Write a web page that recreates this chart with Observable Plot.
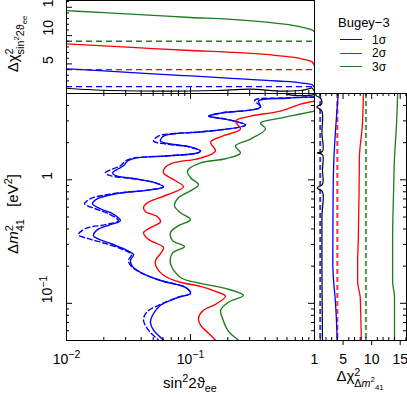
<!DOCTYPE html>
<html><head><meta charset="utf-8">
<script src="https://cdn.jsdelivr.net/npm/d3@7"></script>
<script src="https://cdn.jsdelivr.net/npm/@observablehq/plot@0.6"></script>
<style>
body{margin:0;background:#fff;font-family:"Liberation Sans",Arial,sans-serif;}
#wrap{position:relative;width:407px;height:394px;overflow:hidden;background:#fff;}
#wrap svg{position:absolute;left:0;top:0;}
.lbl{position:absolute;white-space:nowrap;font-size:14px;line-height:1;color:#000;}
.rot{transform:translate(-50%,-50%) rotate(-90deg);}
.ctr{transform:translate(-50%,-50%);}
.mid{transform:translateY(-50%);}
.ss{display:inline-flex;flex-direction:column;vertical-align:0.5em;font-size:0.72em;line-height:1.05;}
sup,sub{font-size:0.72em;line-height:0;}
</style></head><body><div id="wrap"></div><script>
// ---------- data ----------
const levelNames = ["1σ","2σ","3σ"];
const levelColors = ["#0000ff","#ff0000","#1e7b1e"];
const chi2Thresholds = [1,4,9];

// main panel contours: [sin²2θee, Δm²41 (eV²)]
const contour1s = [[0.063,0.048],[0.0606,0.0503],[0.0503,0.0606],[0.0475,0.0703],[0.0494,0.080],[0.0573,0.0964],[0.080,0.112],[0.100,0.1205],[0.0912,0.1346],[0.0573,0.153],[0.0395,0.178],[0.034,0.199],[0.0328,0.222],[0.0347,0.248],[0.0299,0.272],[0.0226,0.305],[0.0178,0.334],[0.0165,0.354],[0.0178,0.395],[0.0226,0.434],[0.0272,0.467],[0.0235,0.532],[0.0188,0.583],[0.0162,0.640],[0.0178,0.703],[0.0249,0.771],[0.0475,0.830],[0.0606,0.878],[0.0522,0.946],[0.036,1.02],[0.0249,1.08],[0.0235,1.14],[0.0262,1.23],[0.0288,1.30],[0.0311,1.42],[0.036,1.50],[0.0629,1.56],[0.114,1.65],[0.1205,1.71],[0.100,1.85],[0.069,1.95],[0.0573,2.06],[0.0606,2.26],[0.083,2.39],[0.1205,2.44],[0.278,2.78],[0.191,3.10],[0.140,3.28],[0.175,3.47],[0.367,3.88],[0.353,4.34],[0.583,4.58],[1,4.67]];
const contour1sAlt = [[0.0575,0.048],[0.0552,0.0503],[0.0458,0.0606],[0.0418,0.0729],[0.0442,0.0846],[0.0552,0.0964],[0.080,0.112],[0.100,0.1205],[0.0912,0.1346],[0.0573,0.153],[0.0395,0.178],[0.0334,0.199],[0.0316,0.222],[0.0334,0.248],[0.0285,0.272],[0.0206,0.305],[0.0150,0.334],[0.0125,0.36],[0.0142,0.403],[0.0206,0.434],[0.0262,0.467],[0.0218,0.532],[0.0171,0.583],[0.0140,0.640],[0.0156,0.703],[0.0235,0.771],[0.0475,0.830],[0.0606,0.878],[0.0522,0.946],[0.0347,1.02],[0.0226,1.08],[0.0206,1.14],[0.0239,1.23],[0.0272,1.30],[0.0299,1.42],[0.0347,1.50],[0.0629,1.56],[0.114,1.65],[0.1205,1.71],[0.0964,1.85],[0.0629,1.95],[0.0503,2.06],[0.055,2.26],[0.083,2.39],[0.1205,2.44],[0.278,2.78],[0.191,3.10],[0.140,3.28],[0.175,3.47],[0.367,3.88],[0.33,4.4],[0.583,4.6],[1,4.7]];
const contour2s = [[0.165,0.048],[0.159,0.0503],[0.137,0.0584],[0.1205,0.0665],[0.116,0.0757],[0.127,0.0878],[0.159,0.0982],[0.191,0.114],[0.159,0.125],[0.1205,0.137],[0.083,0.148],[0.0629,0.165],[0.0532,0.195],[0.0522,0.222],[0.0573,0.253],[0.0606,0.283],[0.0475,0.322],[0.0434,0.347],[0.0418,0.374],[0.0475,0.410],[0.0573,0.458],[0.0542,0.503],[0.0434,0.552],[0.0418,0.594],[0.045,0.653],[0.0653,0.757],[0.0878,0.878],[0.0757,0.982],[0.0606,1.14],[0.0629,1.27],[0.0729,1.37],[0.1205,1.50],[0.159,1.71],[0.145,2.02],[0.181,2.26],[0.253,2.58],[0.2307,2.99],[0.305,3.28],[0.532,3.60],[0.771,4.10],[1,4.34]];
const contour3s = [[0.26,0.048],[0.244,0.0503],[0.202,0.0595],[0.181,0.0757],[0.175,0.0878],[0.202,0.102],[0.267,0.116],[0.191,0.132],[0.1205,0.145],[0.083,0.162],[0.069,0.21],[0.0716,0.255],[0.0895,0.288],[0.0716,0.322],[0.069,0.374],[0.080,0.426],[0.1,0.476],[0.083,0.542],[0.0743,0.617],[0.080,0.716],[0.1,0.815],[0.116,0.911],[0.1,1.04],[0.0946,1.18],[0.1205,1.37],[0.191,1.48],[0.253,1.65],[0.230,1.88],[0.305,2.14],[0.403,2.58],[0.367,2.88],[0.532,3.16],[0.771,3.41],[1,3.6]];
const bestFitContour = [[0.53,5.2],[0.62,4.9],[0.8,4.8],[0.95,4.85],[1,4.9]];

// top panel: Δχ² vs sin²2θee
const topSin = [0.01,0.02,0.05,0.1,0.2,0.5,0.8,0.95,1];
const topChi1s = [4.13,3.76,3.25,2.87,2.5,1.98,1.62,1.36,0.78];
const topChi2s = [8.54,8.2,7.7,7.37,7.09,6.47,5.86,5.41,4.7];
const topChi3s = [14.4,14.06,13.58,13.2,12.9,12.17,11.46,11.0,10.7];
const topMinSin = [0.01,0.0222,0.064,0.162,0.299,0.562,0.771,0.895,0.946,1];
const topMinChi = [0.7,0.3,0.2,0.3,0.55,0.2,0.3,0.6,0.75,0.15];

// right panel: Δχ² vs Δm²41
const rightDm = [0.05,0.08,0.112,0.15,0.21,0.34,0.8,1.5,2.8,5];
const rightChi1s = [3.97,3.8,3.6,3.35,3.2,3.22,3.26,3.4,3.75,4.15];
const rightChi2s = [8.2,8.1,8.0,7.55,7.55,7.67,7.8,7.85,8.38,8.55];
const rightChi3s = [14.0,14.0,14.0,13.67,13.67,13.67,13.84,14.0,14.35,14.55];
const rightMinDm = [0.05,0.2,0.5,0.8,0.86,0.92,1.2,1.6,1.65,1.7,2.4,3.6,3.9,4.1,4.3,4.6,4.8,5];
const rightMinChi = [1.4,1.3,1.3,1.4,0.5,1.4,1.4,1.4,0.5,1.4,1.3,1.3,0.4,1.2,1.3,1.0,0.3,0.2];

// ticks
const sinMajor = [0.01,0.1,1];
const sinMinor = [0.02,0.03,0.04,0.05,0.06,0.07,0.08,0.09,0.2,0.3,0.4,0.5,0.6,0.7,0.8,0.9];
const sinLabels = ["10^−2","10^−1","1"];
const dmMajor = [0.1,1];
const dmMinor = [0.05,0.06,0.07,0.08,0.09,0.2,0.3,0.4,0.5,0.6,0.7,0.8,0.9,2,3,4,5];
const dmLabels = ["10^−1","1"];
const chiMajor = [5,10,15];
const chiMinor = [1,2,3,4,6,7,8,9,11,12,13,14,16];
const chiLabels = ["5","10","15"];

// ---------- layout ----------
const W=407, H=394, L=66, R=314, T=93, B=340, RR=406;
const font = {background:"transparent", overflow:"visible", fontFamily:"Liberation Sans, Arial, sans-serif", fontSize:"13px"};
const wrap = document.getElementById("wrap");
const contours = [contour1s, contour2s, contour3s];
const topChis = [topChi1s, topChi2s, topChi3s];
const rightChis = [rightChi1s, rightChi2s, rightChi3s];

function supify(svg){
  d3.select(svg).selectAll("text").each(function(){
    const t = this.textContent;
    if (t.includes("^")) {
      const [a,b] = t.split("^");
      const s = d3.select(this); s.text("");
      s.append("tspan").text(a);
      s.append("tspan").attr("dy","-0.5em").attr("font-size","0.75em").text(b);
    }
  });
  return svg;
}

// main panel
const fwM = R-L, fhM = B-T;
const mainPlot = Plot.plot({
  width:W, height:H, marginLeft:L, marginRight:W-R, marginTop:T, marginBottom:H-B,
  style:font,
  x:{type:"log", domain:[0.01,1], axis:null},
  y:{type:"log", domain:[0.05,5], axis:null},
  marks:[
    Plot.line(contour1sAlt,{x:d=>d[0],y:d=>d[1],stroke:levelColors[0],strokeWidth:1.4,strokeDasharray:"5,3",curve:"catmull-rom",clip:true}),
    ...contours.map((c,i)=>Plot.line(c,{x:d=>d[0],y:d=>d[1],stroke:levelColors[i],strokeWidth:1.4,curve:"catmull-rom",clip:true})),
    Plot.line(bestFitContour,{x:d=>d[0],y:d=>d[1],stroke:"black",strokeWidth:1.2,curve:"catmull-rom",clip:true}),
    Plot.tickX(sinMajor,{x:d=>d,insetTop:fhM-6}),
    Plot.tickX(sinMinor,{x:d=>d,insetTop:fhM-3}),
    Plot.tickX(sinMajor,{x:d=>d,insetBottom:fhM-6}),
    Plot.tickX(sinMinor,{x:d=>d,insetBottom:fhM-3}),
    Plot.tickY(dmMajor,{y:d=>d,insetRight:fwM-6}),
    Plot.tickY(dmMinor,{y:d=>d,insetRight:fwM-3}),
    Plot.tickY(dmMajor,{y:d=>d,insetLeft:fwM-6}),
    Plot.tickY(dmMinor,{y:d=>d,insetLeft:fwM-3}),
    Plot.frame({stroke:"black"}),
    Plot.text(sinMajor,{x:d=>d,text:(d,i)=>sinLabels[i],frameAnchor:"bottom",dy:23,fontSize:14}),
    Plot.text(dmMajor,{y:d=>d,text:(d,i)=>dmLabels[i],frameAnchor:"left",dx:-19,rotate:-90,fontSize:14})
  ]
});
wrap.appendChild(supify(mainPlot));

// top panel
const fwT = R-L, fhT = T;
const topPlot = Plot.plot({
  width:W, height:H, marginLeft:L, marginRight:W-R, marginTop:0, marginBottom:H-T,
  style:font,
  x:{type:"log", domain:[0.01,1], axis:null},
  y:{domain:[-0.23,16.2], axis:null},
  marks:[
    ...chi2Thresholds.map((v,i)=>Plot.ruleY([v],{stroke:levelColors[i],strokeWidth:1.3,strokeDasharray:"6,4"})),
    ...topChis.map((c,i)=>Plot.line(topSin,{x:d=>d,y:(d,j)=>c[j],stroke:levelColors[i],strokeWidth:1.3,curve:"monotone-x",clip:true})),
    Plot.line(topMinSin,{x:d=>d,y:(d,j)=>topMinChi[j],stroke:"black",strokeWidth:1.2,curve:"monotone-x",clip:true}),
    Plot.tickX(sinMajor,{x:d=>d,insetTop:fhT-6}),
    Plot.tickX(sinMinor,{x:d=>d,insetTop:fhT-3}),
    Plot.tickY(chiMajor,{y:d=>d,insetRight:fwT-6}),
    Plot.tickY(chiMinor,{y:d=>d,insetRight:fwT-3}),
    Plot.frame({stroke:"black"}),
    Plot.text(chiMajor,{y:d=>d,text:(d,i)=>chiLabels[i],frameAnchor:"left",dx:-18,rotate:-90,fontSize:14})
  ]
});
wrap.appendChild(topPlot);

// right panel
const fwR = RR-R, fhR = B-T;
const rightPlot = Plot.plot({
  width:W, height:H, marginLeft:R, marginRight:W-RR, marginTop:T, marginBottom:H-B,
  style:font,
  x:{domain:[0,16.1], axis:null},
  y:{type:"log", domain:[0.05,5], axis:null},
  marks:[
    ...chi2Thresholds.map((v,i)=>Plot.ruleX([v],{stroke:levelColors[i],strokeWidth:2,strokeOpacity:0.8,strokeDasharray:"5,3"})),
    ...rightChis.map((c,i)=>Plot.line(rightDm,{y:d=>d,x:(d,j)=>c[j],stroke:levelColors[i],strokeWidth:1.3,curve:"monotone-y",clip:true})),
    Plot.line(rightMinDm,{y:d=>d,x:(d,j)=>rightMinChi[j],stroke:"black",strokeWidth:1.2,curve:"catmull-rom",clip:true}),
    Plot.tickX(chiMajor,{x:d=>d,insetTop:fhR,insetBottom:-5}),
    Plot.tickX(chiMinor,{x:d=>d,insetTop:fhR-3}),
    Plot.tickX(chiMinor,{x:d=>d,insetBottom:fhR-3}),
    Plot.tickX(chiMajor,{x:d=>d,insetBottom:fhR-6}),
    Plot.tickY(dmMajor,{y:d=>d,insetLeft:fwR-6}),
    Plot.tickY(dmMinor,{y:d=>d,insetLeft:fwR-3}),
    Plot.frame({stroke:"black"}),
    Plot.text(chiMajor,{x:d=>d,text:(d,i)=>chiLabels[i],frameAnchor:"bottom",dy:23,fontSize:14})
  ]
});
wrap.appendChild(rightPlot);

// ---------- html labels ----------
function addLabel(html, x, y, cls, size){
  const d = document.createElement("div");
  d.className = "lbl " + cls;
  d.style.left = x+"px"; d.style.top = y+"px";
  if (size) d.style.fontSize = size+"px";
  d.innerHTML = html;
  wrap.appendChild(d);
}
addLabel('sin<sup>2</sup>2ϑ<sub>ee</sub>', 190, 382, "ctr", 15);
addLabel('Δχ<span class="ss"><span>2</span><span>Δ<i>m</i><sup>2</sup><sub>41</sub></span></span>', 360, 378, "ctr", 15);
addLabel('Δ<i>m</i><span class="ss"><span>2</span><span>41</span></span>&nbsp;&nbsp;&nbsp;[eV<sup>2</sup>]', 15, 214, "rot", 15);
addLabel('Δχ<span class="ss"><span>2</span><span>sin<sup>2</sup>2ϑ<sub>ee</sub></span></span>', 15, 44, "rot", 15);
addLabel('Bugey−3', 338, 22, "mid", 13);
levelNames.forEach((n,i)=>{
  const y = 40 + i*13.3;
  const ln = document.createElement("div");
  ln.style.cssText = `position:absolute;left:340px;top:${y-0.75}px;width:22px;height:0;border-top:1.5px solid ${levelColors[i]};`;
  wrap.appendChild(ln);
  addLabel(n, 372, y, "mid", 12);
});
</script></body></html>
